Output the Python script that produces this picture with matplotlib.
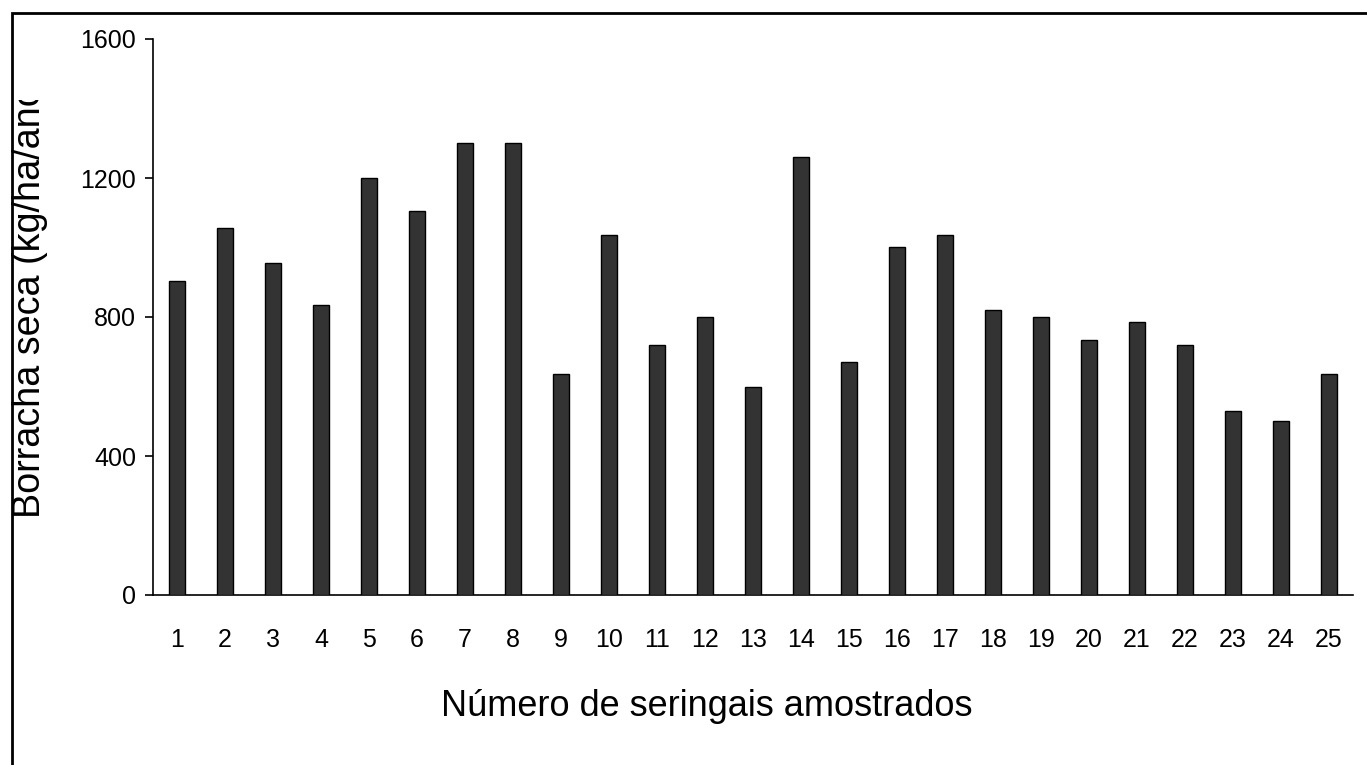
import matplotlib
matplotlib.use("Agg")
import matplotlib.pyplot as plt
from matplotlib.patches import Rectangle
from matplotlib.transforms import Bbox

# Data
seringais = list(range(1, 26))
borracha = [905, 1055, 955, 835, 1200, 1105, 1300, 1300, 635, 1035,
            720, 800, 600, 1260, 670, 1000, 1035, 820, 800, 735,
            785, 720, 530, 500, 635]
y_ticks = [0, 400, 800, 1200, 1600]

W, H = 1367, 765
plt.rcParams['font.family'] = ['Liberation Sans', 'DejaVu Sans']

fig = plt.figure(figsize=(W / 100, H / 100), dpi=100)
ax = fig.add_axes([153 / W, (H - 595) / H, 1200 / W, 556 / H])

ax.bar(seringais, borracha, width=0.33, color="#333333",
       edgecolor="black", linewidth=1.0, zorder=3)

ax.set_xlim(0.5, 25.5)
ax.set_ylim(0, 1600)
ax.set_yticks(y_ticks)
ax.set_xticks(seringais)
ax.set_xticklabels([str(s) for s in seringais])

for side in ["top", "right"]:
    ax.spines[side].set_visible(False)
ax.spines["left"].set_linewidth(1.2)
ax.spines["bottom"].set_linewidth(1.2)

ax.tick_params(axis="y", direction="out", length=6, width=1.2,
               labelsize=18, pad=6)
ax.tick_params(axis="x", length=0, labelsize=18, pad=24)

# x label
fig.text(707 / W, (H - 707) / H, "Número de seringais amostrados",
         fontsize=26, ha="center", va="center")

# y label (cut off at the top, as in the original)
ylab = fig.text(30 / W, (H - 518) / H, "Borracha seca (kg/ha/ano)",
                fontsize=27.2, rotation=90, ha="center", va="bottom")
ylab.set_clip_box(Bbox.from_extents(0, 0, W, H - 100))
ylab.set_clip_on(True)

# outer frame
fig.patches.append(Rectangle((12 / W, -0.1), 1.2, (H - 13) / H + 0.1,
                             transform=fig.transFigure, fill=False,
                             edgecolor="black", linewidth=2.0))

fig.savefig("out.png", dpi=100)
